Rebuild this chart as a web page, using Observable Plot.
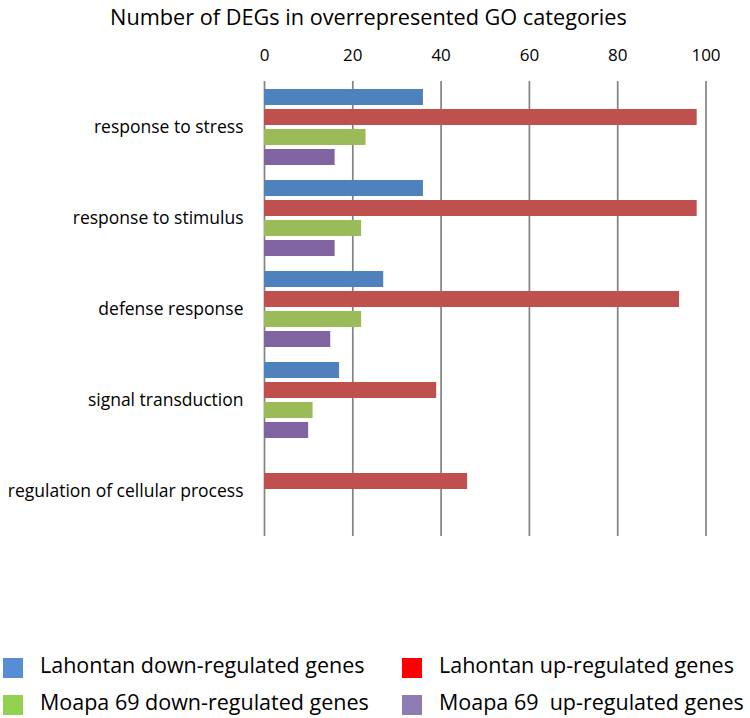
<!DOCTYPE html>
<html>
<head>
<meta charset="utf-8">
<script src="https://cdn.jsdelivr.net/npm/d3@7"></script>
<script src="https://cdn.jsdelivr.net/npm/@observablehq/plot@0.6"></script>
<style>
  html, body { margin: 0; padding: 0; background: #fff; }
  #wrap { position: relative; width: 750px; height: 718px; font-family: "Open Sans", sans-serif; color: #000; overflow: hidden; }
  #title { position: absolute; left: 0; top: 0; width: 737px; height: 34px; line-height: 34px; text-align: center; font-size: 21.7px; }
  #chart { position: absolute; left: 0; top: 36px; }
  .leg { position: absolute; display: flex; align-items: flex-start; font-size: 21.5px; line-height: 24px; height: 24px; white-space: pre; }
  .sw { width: 20px; height: 20px; margin-top: 5px; margin-right: 17px; flex: none; }
</style>
</head>
<body>
<div id="wrap">
  <div id="title">Number of DEGs in overrepresented GO categories</div>
  <div id="chart"></div>
</div>
<script>
const categories = ["response to stress", "response to stimulus", "defense response", "signal transduction", "regulation of cellular process"];
const series = ["Lahontan down-regulated genes", "Lahontan up-regulated genes", "Moapa 69 down-regulated genes", "Moapa 69  up-regulated genes"];
const lahontanDown = [36, 36, 27, 17, 0];
const lahontanUp = [98, 98, 94, 39, 46];
const moapaDown = [23, 22, 22, 11, 0];
const moapaUp = [16, 16, 15, 10, 0];
const xTicks = [0, 20, 40, 60, 80, 100];
const barColors = ["#4f81bd", "#c0504d", "#9bbb59", "#8064a2"];
const legendColors = ["#558ed5", "#ff0000", "#92d050", "#8e7cb3"];

const seriesValues = [lahontanDown, lahontanUp, moapaDown, moapaUp];
const data = [];
categories.forEach((c, i) => {
  series.forEach((s, j) => {
    const v = seriesValues[j][i];
    if (v > 0) data.push({category: c, series: s, value: v});
  });
});

const chart = Plot.plot({
  width: 750,
  height: 506,
  marginTop: 44,
  marginBottom: 5,
  marginLeft: 264,
  marginRight: 44.5,
  style: {fontFamily: "Open Sans, sans-serif", fontSize: "17px", color: "#000", background: "#fff"},
  x: {domain: [0, 100]},
  y: {domain: series, paddingInner: 0.21, paddingOuter: 0.28, axis: null},
  fy: {domain: categories, padding: 0},
  color: {domain: series, range: barColors},
  marks: [
    Plot.gridX(xTicks, {stroke: "#828282", strokeOpacity: 1, strokeWidth: 1.7}),
    Plot.axisX(xTicks, {anchor: "top", tickSize: 0, tickPadding: 20.5, label: null, fontSize: 17}),
    Plot.axisFy({anchor: "left", tickSize: 0, tickPadding: 21, label: null, fontSize: 17.5}),
    Plot.barX(data, {x: "value", y: "series", fy: "category", fill: "series"})
  ]
});
document.getElementById("chart").appendChild(chart);

const wrap = document.getElementById("wrap");
const legendPos = [[3, 653], [402, 653], [3, 690], [402, 690]];
series.forEach((s, i) => {
  const d = document.createElement("div");
  d.className = "leg";
  d.style.left = legendPos[i][0] + "px";
  d.style.top = legendPos[i][1] + "px";
  const sw = document.createElement("span");
  sw.className = "sw";
  sw.style.background = legendColors[i];
  const t = document.createElement("span");
  t.textContent = s;
  d.appendChild(sw);
  d.appendChild(t);
  wrap.appendChild(d);
});
</script>
</body>
</html>
